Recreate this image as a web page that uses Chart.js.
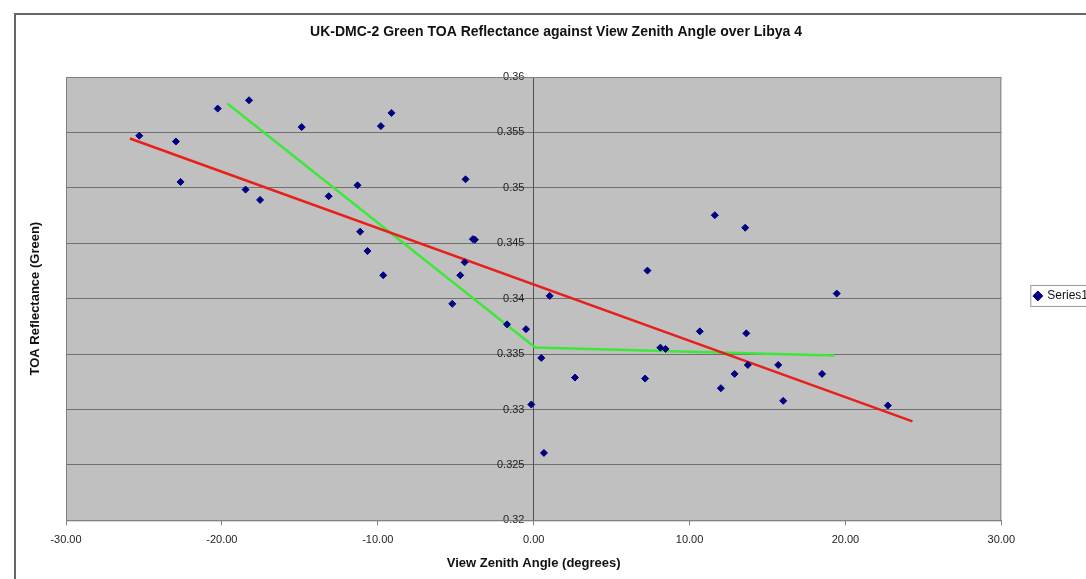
<!DOCTYPE html>
<html>
<head>
<meta charset="utf-8">
<script src="https://cdn.jsdelivr.net/npm/chart.js@4/dist/chart.umd.min.js"></script>
<style>
  html, body { margin: 0; padding: 0; background: #fff; overflow: hidden; }
  #wrap { width: 1120px; height: 579px; }
</style>
</head>
<body>
<div id="wrap"><canvas id="chart" width="1120" height="579"></canvas></div>
<script>
// scatter points (view zenith angle in degrees, TOA reflectance)
const viewAngle = [
  -25.3, -22.95, -22.65, -20.27, -18.26, -18.48, -17.55, -14.88, -13.15, -11.3,
  -11.13, -10.66, -9.8, -9.12, -9.65, -4.37, -3.9, -3.77, -4.43, -4.71,
  -5.22, -1.71, -0.49, -0.15, 0.49, 1.03, 0.66, 2.65, 7.15, 8.13,
  8.46, 10.66, 12.01, 12.89, 13.64, 13.74, 15.69, 16.01, 18.5, 19.44,
  22.72, 11.62, 13.57, 7.3
];
const reflectance = [
  0.3547, 0.35418, 0.35053, 0.35715, 0.3579, 0.34984, 0.34891, 0.35548, 0.34924, 0.35023,
  0.34604, 0.3443, 0.35557, 0.35676, 0.34211, 0.35077, 0.34537, 0.34532, 0.34328, 0.34211,
  0.33953, 0.33768, 0.33725, 0.33045, 0.33465, 0.34025, 0.32608, 0.33288, 0.33279, 0.33558,
  0.33546, 0.33705, 0.33192, 0.33321, 0.33687, 0.33402, 0.33402, 0.33078, 0.33321, 0.34046,
  0.33036, 0.34753, 0.3464, 0.34253
];

// red trend line (ends)
const redLineX = [-25.9, 24.3];
const redLineY = [0.35445, 0.32892];

// green piecewise line
const greenLineX = [-19.65, 0.1, 10, 19.3];
const greenLineY = [0.3576, 0.3356, 0.3352, 0.33488];

const xTickValues = [-30, -20, -10, 0, 10, 20, 30];

const titleText = "UK-DMC-2 Green TOA Reflectance against View Zenith Angle over Libya 4";
const xTitle = "View Zenith Angle (degrees)";
const yTitle = "TOA Reflectance (Green)";

function toPoints(xs, ys) {
  return xs.map((x, i) => ({ x: x, y: ys[i] }));
}

Chart.defaults.font.family = 'Arial, "Liberation Sans", sans-serif';
Chart.defaults.font.size = 11;
Chart.defaults.color = "#222";

// white page, outer frame, grey plot background
const backgroundPlugin = {
  id: "background",
  beforeDraw(chart) {
    const ctx = chart.ctx;
    const a = chart.chartArea;
    ctx.save();
    ctx.fillStyle = "#fff";
    ctx.fillRect(0, 0, chart.width, chart.height);
    ctx.strokeStyle = "#666";
    ctx.lineWidth = 2;
    ctx.strokeRect(15, 14, chart.width + 50, chart.height + 50);
    ctx.fillStyle = "#c0c0c0";
    ctx.fillRect(a.left, a.top, a.right - a.left, a.bottom - a.top);
    ctx.restore();
  },
  beforeDatasetsDraw(chart) {
    const ctx = chart.ctx;
    const a = chart.chartArea;
    ctx.save();
    ctx.strokeStyle = "#808080";
    ctx.lineWidth = 1;
    ctx.strokeRect(a.left + 0.5, a.top + 0.5, a.right - a.left - 1, a.bottom - a.top);
    ctx.restore();
  },
  afterDraw(chart) {
    // box round the legend
    const box = chart.legend.legendHitBoxes[0];
    if (!box) return;
    const ctx = chart.ctx;
    ctx.save();
    ctx.strokeStyle = "#999";
    ctx.lineWidth = 1;
    ctx.strokeRect(box.left - 3.5, box.top - 4.5, 200, box.height + 9);
    ctx.restore();
  }
};

const ctx = document.getElementById("chart").getContext("2d");
const chart = new Chart(ctx, {
  type: "scatter",
  data: {
    datasets: [
      {
        label: "Series1",
        data: toPoints(viewAngle, reflectance),
        pointStyle: "rectRot",
        pointRadius: 3.5,
        pointBackgroundColor: "#000080",
        pointBorderColor: "#000080",
        borderColor: "#000080",
        backgroundColor: "#000080",
        showLine: false,
        order: 0,
      },
      {
        label: "red",
        data: toPoints(redLineX, redLineY),
        showLine: true,
        borderColor: "#e8201c",
        borderWidth: 2.5,
        pointRadius: 0,
        order: 1,
      },
      {
        label: "green",
        data: toPoints(greenLineX, greenLineY),
        showLine: true,
        borderColor: "#3de83a",
        borderWidth: 2.5,
        pointRadius: 0,
        order: 1,
      },
    ],
  },
  options: {
    responsive: false,
    animation: false,
    layout: {
      padding: { left: 14, right: 22, top: 0, bottom: 7.5 },
    },
    plugins: {
      title: {
        display: true,
        text: titleText,
        color: "#111",
        font: { size: 14, weight: "bold" },
        padding: { top: 23.6, bottom: 36.6 },
      },
      legend: {
        position: "right",
        title: { display: true, text: " ", padding: 0, font: { size: 17 } },
        labels: {
          filter: (item) => item.text === "Series1",
          usePointStyle: true,
          boxWidth: 7,
          boxHeight: 7,
          padding: 33,
          color: "#111",
          font: { size: 12 },
        },
      },
      tooltip: { enabled: false },
    },
    scales: {
      x: {
        type: "linear",
        min: -30,
        max: 30,
        afterBuildTicks: (scale) => {
          scale.ticks = xTickValues.map((v) => ({ value: v }));
        },
        grid: {
          drawOnChartArea: false,
          drawTicks: true,
          tickLength: 5,
          color: "#808080",
        },
        border: { color: "#808080" },
        ticks: {
          padding: 8.4,
          maxRotation: 0,
          callback: (v) => (Math.abs(v) < 1e-9 ? "0.00" : v.toFixed(2)),
        },
        title: {
          display: true,
          text: xTitle,
          color: "#111",
          font: { size: 13, weight: "bold" },
          padding: { top: 0.6, bottom: 0 },
        },
      },
      y: {
        type: "linear",
        position: { x: 0 },
        min: 0.32,
        max: 0.36,
        ticks: {
          stepSize: 0.005,
          // trailing spaces keep the labels clear of the axis line
          callback: (v) => String(Number(v.toFixed(3))) + "   ",
        },
        grid: {
          color: "#707070",
          tickLength: 6,
          drawTicks: true,
        },
        border: { color: "#505050" },
      },
      yTitle: {
        type: "linear",
        position: "left",
        min: 0.32,
        max: 0.36,
        ticks: { display: false },
        grid: { display: false, drawTicks: false },
        border: { display: false },
        title: {
          display: true,
          text: yTitle,
          color: "#111",
          font: { size: 13, weight: "bold" },
          padding: { top: 13.2, bottom: 23.2 },
        },
      },
    },
  },
  plugins: [backgroundPlugin],
});
</script>
</body>
</html>
